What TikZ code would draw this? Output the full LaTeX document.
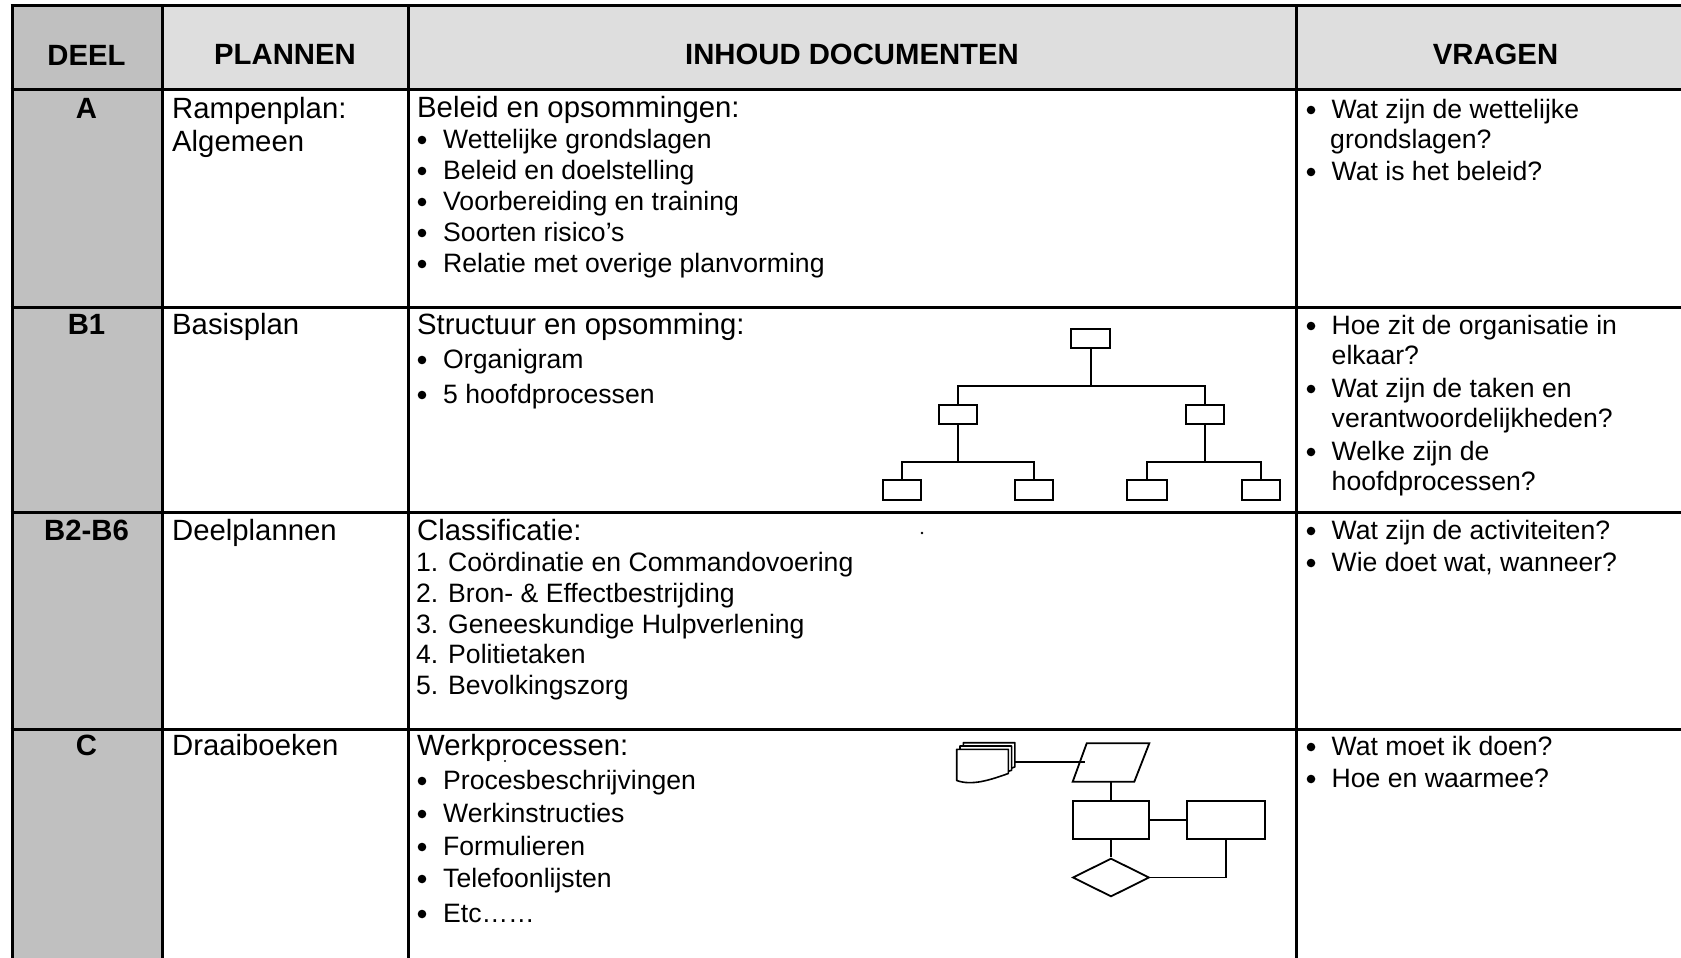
\documentclass[tikz,border=0pt]{standalone}
\usepackage{fontspec}
\setmainfont{Liberation Sans}
\usetikzlibrary{shapes.geometric}
\definecolor{hdrgray}{RGB}{222,222,222}
\definecolor{deelgray}{RGB}{192,192,192}
\newcommand\fHead{\fontsize{29.3}{33}\selectfont\bfseries}
\newcommand\fBig{\fontsize{29.3}{33}\selectfont}
\newcommand\fSm{\fontsize{26.6}{30}\selectfont}
\tikzset{
  rule/.style={line width=3pt},
  hd/.style={anchor=base, inner sep=0pt, font=\fHead},
  big/.style={anchor=base west, inner sep=0pt, font=\fBig},
  sm/.style={anchor=base west, inner sep=0pt, font=\fSm},
  bul/.style={circle, fill=black, inner sep=0pt, minimum size=8.6pt, yshift=8pt},
  obox/.style={draw, line width=2pt, minimum width=38pt, minimum height=19.5pt, inner sep=0pt, fill=white},
  orgline/.style={line width=2pt},
  fbox/.style={draw, line width=1.8pt, inner sep=0pt, minimum height=38.6pt},
  flowline/.style={line width=1.8pt},
  sheet/.style={draw, fill=white, line width=1.6pt, line join=round},
}
\begin{document}
\begin{tikzpicture}[x=1pt,y=-1pt]
\useasboundingbox (0,0) rectangle (1681,958);
\clip (0,0) rectangle (1681,958);

% cell shading
\fill[hdrgray] (162,6) rectangle (1690,89);
\fill[deelgray] (12,6) rectangle (162,970);

% table rules
\foreach \y in {6,89,307,512,729} \draw[rule] (10.5,\y) -- (1690,\y);
\foreach \x in {12,162,408,1296} \draw[rule] (\x,4.5) -- (\x,970);

% header row
\node[hd] (hDeel) at (86.5,66) {DEEL};
\node[hd] (hPlan) at (285,64) {PLANNEN};
\node[hd] (hInh)  at (852,64) {INHOUD DOCUMENTEN};
\node[hd] (hVrg)  at (1495.5,64) {VRAGEN};

% DEEL column
\node[hd] (dA)  at (86.5,118) {A};
\node[hd] (dB1) at (86.5,334) {B1};
\node[hd] (dB2) at (86.5,540) {B2-B6};
\node[hd] (dC)  at (86.5,755) {C};

% PLANNEN column
\node[big] (pA1) at (172,118) {Rampenplan:};
\node[big] (pA2) at (172,151) {Algemeen};
\node[big] (pB1) at (172,334) {Basisplan};
\node[big] (pB2) at (172,540) {Deelplannen};
\node[big] (pC)  at (172,755) {Draaiboeken};

% INHOUD DOCUMENTEN column
\node[big] (iAh) at (417,117) {Beleid en opsommingen:};
\foreach \y/\t [count=\i] in {148/Wettelijke grondslagen, 179/Beleid en doelstelling,
    210/Voorbereiding en training, 241/Soorten risico’s, 272/Relatie met overige planvorming} {
  \node[bul] (iAb\i) at (422,\y) {};
  \node[sm] (iAt\i) at (443,\y) {\t};
}
\node[big] (iBh) at (417,334) {Structuur en opsomming:};
\foreach \y/\t [count=\i] in {368/Organigram, 403/5 hoofdprocessen} {
  \node[bul] (iBb\i) at (422,\y) {};
  \node[sm] (iBt\i) at (443,\y) {\t};
}
\node[big] (iCh) at (417,540) {Classificatie:};
\foreach \y/\t [count=\i] in {571/1. Coördinatie en Commandovoering, 602/2. Bron- \& Effectbestrijding,
    633/3. Geneeskundige Hulpverlening, 663/4. Politietaken, 694/5. Bevolkingszorg} {
  \node[sm] (iCt\i) at (416,\y) {\t};
}
\node[big] (iDh) at (417,755) {Werkprocessen:};
\foreach \y/\t [count=\i] in {789/Procesbeschrijvingen, 822/Werkinstructies, 855/Formulieren,
    887/Telefoonlijsten, 922/Etc……} {
  \node[bul] (iDb\i) at (422,\y) {};
  \node[sm] (iDt\i) at (443,\y) {\t};
}

% VRAGEN column
\foreach \y in {118,180,334,397,460,539,571,755,787}
  \node[bul] (vb\y) at (1311,\y) {};
\node[sm] (vA1) at (1331.5,118) {Wat zijn de wettelijke};
\node[sm] (vA2) at (1330,148) {grondslagen?};
\node[sm] (vA3) at (1331.5,180) {Wat is het beleid?};
\node[sm] (vB1) at (1331.5,334) {Hoe zit de organisatie in};
\node[sm] (vB2) at (1331.5,364) {elkaar?};
\node[sm] (vB3) at (1331.5,397) {Wat zijn de taken en};
\node[sm] (vB4) at (1331.5,427) {verantwoordelijkheden?};
\node[sm] (vB5) at (1331.5,460) {Welke zijn de};
\node[sm] (vB6) at (1331.5,490) {hoofdprocessen?};
\node[sm] (vC1) at (1331.5,539) {Wat zijn de activiteiten?};
\node[sm] (vC2) at (1331.5,571) {Wie doet wat, wanneer?};
\node[sm] (vD1) at (1331.5,755) {Wat moet ik doen?};
\node[sm] (vD2) at (1331.5,787) {Hoe en waarmee?};

% organigram
\node[obox, minimum width=38.7pt] (o0) at (1090.5,338.3) {};
\node[obox] (oL)  at (958,414.3) {};
\node[obox] (oR)  at (1204.5,414.3) {};
\node[obox] (oLL) at (901.7,490.2) {};
\node[obox] (oLR) at (1033.7,490.2) {};
\node[obox, minimum width=40pt] (oRL) at (1146.5,490.2) {};
\node[obox] (oRR) at (1261.3,490.2) {};
\coordinate (bar1) at (0,386);
\coordinate (bar2) at (0,462);
\draw[orgline] (o0.south) -- (o0.south |- bar1);
\draw[orgline] (oL.north) -- (oL.north |- bar1) -- (oR.north |- bar1) -- (oR.north);
\draw[orgline] (oL.south) -- (oL.south |- bar2);
\draw[orgline] (oR.south) -- (oR.south |- bar2);
\draw[orgline] (oLL.north) -- (oLL.north |- bar2) -- (oLR.north |- bar2) -- (oLR.north);
\draw[orgline] (oRL.north) -- (oRL.north |- bar2) -- (oRR.north |- bar2) -- (oRR.north);

% flow chart: document stack
\foreach \d in {6.6,3.3,0} {
  \draw[sheet] (956.7+\d,749.3-\d) -- (956.7+\d,780.5-\d)
     .. controls (972+\d,786-\d) and (990+\d,780-\d) .. (1008.3+\d,773.5-\d)
     -- (1008.3+\d,749.3-\d) -- cycle;
}
\coordinate (stack) at (1015,762.3);
% input/output parallelogram
\draw[flowline, line join=miter] (1072.7,781.7) -- (1086.7,743.3) -- (1149.3,743.3) -- (1134.3,781.7) -- cycle;
\coordinate (parIn) at (1085,762.3);
\coordinate (parB) at (1111,781.7);
% process boxes and decision
\node[fbox, minimum width=76.6pt] (r1) at (1111,820) {};
\node[fbox, minimum width=77.7pt] (r2) at (1226.2,820) {};
\node[draw, diamond, line width=1.8pt, inner sep=0pt, minimum width=76.6pt, minimum height=38.4pt] (dia) at (1111,877.5) {};
\draw[flowline] (stack) -- (parIn);
\draw[flowline] (parB) -- (r1.north);
\draw[flowline] (r1.east) -- (r2.west);
\draw[flowline] (r1.south) -- (dia.north);
\draw[flowline] (dia.east) -| (r2.south);

% stray specks
\fill (922,533) circle (1.3);
\fill (505,761) circle (1.1);
\end{tikzpicture}
\end{document}
